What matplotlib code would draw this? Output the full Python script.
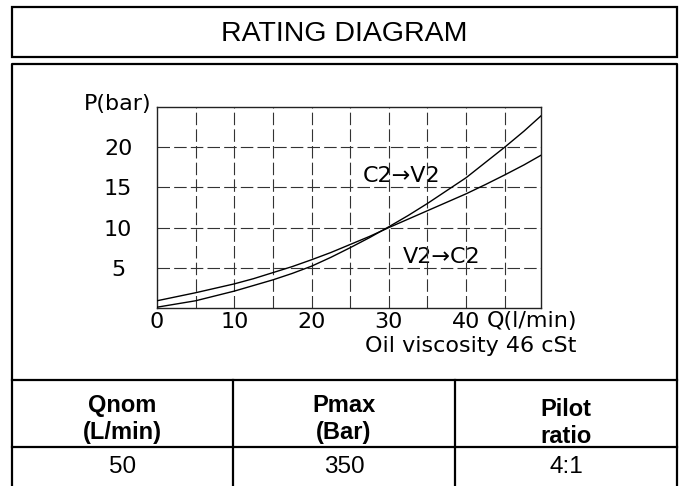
import numpy as np
import matplotlib
matplotlib.use("Agg")
from matplotlib import pyplot as plt
from matplotlib import font_manager
from matplotlib.patches import Rectangle

# curve data
q = [0, 2.5, 5, 7.5, 10, 12.5, 15, 17.5, 20, 22.5, 25,
     27.5, 30, 32.5, 35, 37.5, 40, 42.5, 45, 47.5, 49.7]
p_c2v2 = [0.1, 0.5, 0.9, 1.5, 2.1, 2.8, 3.5, 4.3, 5.2, 6.3, 7.5,
          8.75, 10.1, 11.5, 13.0, 14.6, 16.2, 18.1, 20.0, 22.0, 23.9]
p_v2c2 = [0.9, 1.4, 1.9, 2.45, 3.0, 3.65, 4.4, 5.15, 6.0, 6.9, 7.9,
          8.9, 10.0, 11.05, 12.1, 13.15, 14.2, 15.35, 16.55, 17.8, 19.0]

grid_q = [5, 10, 15, 20, 25, 30, 35, 40, 45]
grid_p = [5, 10, 15, 20]
xtick_vals = [0, 10, 20, 30, 40]
ytick_vals = [5, 10, 15, 20]

headers = ["Qnom\n(L/min)", "Pmax\n(Bar)", "Pilot\nratio"]
values = ["50", "350", "4:1"]

W, H = 679, 486
plt.rcParams["lines.scale_dashes"] = False
chart_font = ["DejaVu Sans"]

# narrow face for title / values if one is installed
names = set(f.name for f in font_manager.fontManager.ttflist)
if "Liberation Sans Narrow" in names:
    narrow_font = ["Liberation Sans Narrow"]
    title_size, value_size = 23, 19
else:
    narrow_font = ["Liberation Sans", "DejaVu Sans"]
    title_size, value_size = 20.5, 17.5

fig = plt.figure(figsize=(W / 100, H / 100), dpi=100)

# background layer in pixel coords for frames and texts
bg = fig.add_axes([0, 0, 1, 1])
bg.set_xlim(0, W)
bg.set_ylim(H, 0)
bg.axis("off")

lw_box = 1.6
bg.add_patch(Rectangle((12, 7), 665, 50, fill=False, lw=lw_box, ec="black"))
bg.plot([12, 12, 677, 677], [H + 5, 64, 64, H + 5], color="black", lw=lw_box)
bg.plot([12, 677], [380, 380], color="black", lw=lw_box)
bg.plot([12, 677], [447, 447], color="black", lw=lw_box)
bg.plot([233, 233], [380, H + 5], color="black", lw=lw_box)
bg.plot([455, 455], [380, H + 5], color="black", lw=lw_box)

bg.text(344, 34, "RATING DIAGRAM", ha="center", va="center",
        fontsize=title_size, family=narrow_font)

col_x = [122.5, 344, 566]
head_y = [419, 419, 423]
for cx, hy, h in zip(col_x, head_y, headers):
    bg.text(cx, hy, h, ha="center", va="center", fontsize=17,
            fontweight="bold", family=["Liberation Sans", "DejaVu Sans"],
            linespacing=1.25)
for cx, v in zip(col_x, values):
    bg.text(cx, 467, v, ha="center", va="center", fontsize=value_size,
            family=narrow_font)

# chart
x0, x1, y0, y1 = 157, 541, 107, 308
ax = fig.add_axes([x0 / W, 1 - y1 / H, (x1 - x0) / W, (y1 - y0) / H])
ax.set_xlim(0, 49.7)
ax.set_ylim(0, 25)
ax.patch.set_alpha(0)
for s in ax.spines.values():
    s.set_linewidth(1.0)
    s.set_color("#222222")

for g in grid_q:
    ax.axvline(g, color="#333333", lw=0.8, dashes=(9, 3), zorder=1)
for g in grid_p:
    ax.axhline(g, color="#333333", lw=0.8, dashes=(9, 3), zorder=1)

ax.plot(q, p_c2v2, color="black", lw=1.0, zorder=3)
ax.plot(q, p_v2c2, color="black", lw=1.0, zorder=3)

ax.set_xticks(xtick_vals)
ax.set_xticklabels([str(v) for v in xtick_vals])
ax.set_yticks(ytick_vals)
ax.set_yticklabels([str(v) for v in ytick_vals])
ax.tick_params(axis="x", length=0, pad=3, labelsize=16)
ax.tick_params(axis="y", length=0, pad=28, labelsize=16)
for t in ax.get_yticklabels():
    t.set_horizontalalignment("center")
    t.set_family(chart_font)
for t in ax.get_xticklabels():
    t.set_family(chart_font)

bg.text(118, 104, "P(bar)", ha="center", va="center", fontsize=16,
        family=chart_font)
bg.text(487, 327, "Q(l/min)", ha="left", va="baseline", fontsize=16,
        family=chart_font)
bg.text(471, 352, "Oil viscosity 46 cSt", ha="center", va="baseline",
        fontsize=16, family=chart_font)
bg.text(402, 182, "C2\u2192V2", ha="center", va="baseline", fontsize=16,
        family=chart_font, zorder=5)
bg.text(442, 263, "V2\u2192C2", ha="center", va="baseline", fontsize=16,
        family=chart_font, zorder=5)

fig.savefig("out.png", dpi=100)
